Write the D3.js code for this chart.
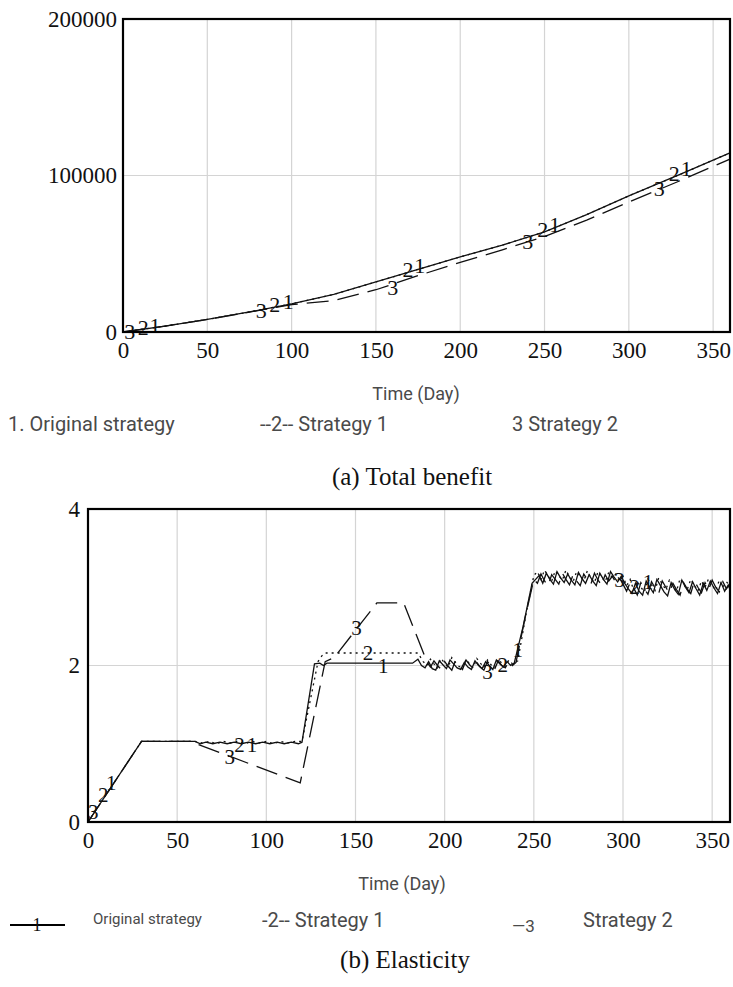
<!DOCTYPE html>
<html>
<head>
<meta charset="utf-8">
<title>Total benefit and elasticity</title>
<script src="https://cdnjs.cloudflare.com/ajax/libs/d3/7.8.5/d3.min.js"></script>
<style>
  body { margin: 0; background: #fff; }
  svg { display: block; }
  .tick text { font-family: "Liberation Serif", serif; fill: #111; }
  .lbl { font-family: "Liberation Serif", serif; fill: #111; }
  .leg { font-family: Roboto, "Liberation Sans", sans-serif; fill: #4a4a4a; }
  .cap { font-family: "Liberation Serif", serif; fill: #111; }
</style>
</head>
<body>
<script>
// ---- data ----
var dayTicks = [0, 50, 100, 150, 200, 250, 300, 350];
var benefitTicks = [0, 100000, 200000];
var elasticTicks = [0, 2, 4];

// (a) total benefit, [day, value]
var benefit1 = [[0,0],[25,3800],[50,8000],[75,12800],[100,18000],[125,24000],[150,32000],[175,40000],[200,48000],[225,55500],[250,64000],[275,75000],[300,87000],[330,100500],[360,114500]];
var benefit2 = [[0,0],[25,3800],[50,8000],[75,12800],[100,18000],[125,24000],[150,32000],[175,40000],[200,48000],[225,55500],[250,64000],[275,75000],[300,87000],[330,100500],[360,114500]];
var benefit3 = [[0,0],[25,3800],[50,8000],[75,12700],[100,17500],[125,20000],[150,27000],[175,36000],[200,44500],[225,52500],[250,61000],[275,71500],[300,83000],[330,96500],[360,110500]];

// (b) elasticity, [day, value]
var elastic1 = [[0,0],[30,1.03],[60,1.03],[63,1.0],[66,1.02],[70,1.0],[74,1.02],[78,1.0],[82,1.02],[86,1.0],[90,1.02],[94,1.0],[98,1.02],[102,1.0],[106,1.02],[110,1.0],[114,1.02],[118,1.0],[120,1.02],
  [127,2.02],[130,2.03],[132,2.0],[134,2.03],[182,2.03],[185,2.08],[187,2.0],[189,1.97],[191,2.05],[193,1.96],[195,1.94],[197,2.06],[199,2.01],[201,1.96],[203,2.07],[205,2.02],[207,1.97],[209,1.95],[211,2.04],[213,1.98],[215,1.95],[217,2.06],[219,2.0],[221,1.96],[223,2.05],[225,2.0],[227,1.95],[229,2.07],[231,2.02],[233,1.98],[235,2.05],[237,2.0],[239,2.03],
  [244,2.5],[249,3.05],[251,3.1],[253,3.15],[255,3.05],[257,3.18],[259,3.1],[261,3.04],[263,3.2],[265,3.12],[267,3.06],[269,3.17],[271,3.09],[273,3.03],[275,3.19],[277,3.11],[279,3.05],[281,3.16],[283,3.08],[285,3.02],[287,3.18],[289,3.1],[291,3.04],[293,3.2],[295,3.13],[297,3.07],[299,3.14],[301,3.05],
  [303,2.98],[305,2.92],[307,3.05],[309,2.95],[311,2.9],[313,3.08],[315,3.0],[317,2.93],[319,3.1],[321,3.02],[323,2.94],[325,2.89],[327,3.06],[329,2.97],[331,2.91],[333,3.09],[335,3.0],[337,2.93],[339,3.07],[341,2.98],[343,2.9],[345,3.05],[347,2.96],[349,3.08],[351,2.99],[353,2.92],[355,3.06],[357,2.95],[359,3.03],[360,2.97]];
var elastic2 = [[0,0],[30,1.03],[60,1.03],[64,1.01],[68,1.03],[72,1.0],[76,1.03],[80,1.01],[84,1.03],[88,1.0],[92,1.03],[96,1.01],[100,1.03],[104,1.0],[108,1.03],[112,1.01],[116,1.03],[120,1.03],
  [129,2.05],[131,2.12],[133,2.16],[185,2.16],[188,2.05],[190,2.0],[192,2.08],[194,2.02],[196,1.97],[198,2.09],[200,2.03],[202,1.98],[204,2.1],[206,2.04],[208,1.99],[210,1.96],[212,2.08],[214,2.02],[216,1.97],[218,2.09],[220,2.03],[222,1.98],[224,2.07],[226,2.01],[228,1.97],[230,2.08],[232,2.03],[234,1.99],[236,2.07],[238,2.02],[241,2.06],
  [246,2.7],[250,3.15],[252,3.2],[254,3.1],[256,3.22],[258,3.14],[260,3.08],[262,3.21],[264,3.15],[266,3.09],[268,3.22],[270,3.13],[272,3.07],[274,3.2],[276,3.14],[278,3.08],[280,3.21],[282,3.12],[284,3.06],[286,3.2],[288,3.13],[290,3.07],[292,3.19],[294,3.12],[296,3.17],[298,3.1],[300,3.14],
  [302,3.02],[304,3.1],[306,2.96],[308,3.08],[310,3.0],[312,2.94],[314,3.1],[316,3.03],[318,2.96],[320,3.12],[322,3.04],[324,2.97],[326,3.09],[328,3.01],[330,2.95],[332,3.11],[334,3.04],[336,2.97],[338,3.1],[340,3.02],[342,2.95],[344,3.08],[346,3.0],[348,3.11],[350,3.03],[352,2.96],[354,3.09],[356,3.0],[358,3.07],[360,3.02]];
var elastic3 = [[0,0],[30,1.03],[60,1.03],[62,0.99],[119,0.5],[133,2.05],[138,2.1],[162,2.8],[177,2.8],[190,2.05],[192,1.98],[194,2.06],[196,2.0],[198,1.95],[200,2.05],[202,1.99],[204,1.94],[206,2.06],[208,2.0],[210,1.95],[212,2.07],[214,2.01],[216,1.96],[218,2.04],[220,1.98],[222,1.94],[224,2.05],[226,1.99],[228,1.95],[230,2.06],[232,2.0],[234,1.97],[236,2.05],[238,2.0],[240,2.04],
  [245,2.6],[250,3.1],[252,3.05],[254,3.17],[256,3.08],[258,3.02],[260,3.16],[262,3.1],[264,3.04],[266,3.18],[268,3.1],[270,3.03],[272,3.16],[274,3.08],[276,3.02],[278,3.17],[280,3.1],[282,3.04],[284,3.18],[286,3.09],[288,3.03],[290,3.16],[292,3.08],[294,3.14],[296,3.06],[298,3.12],[300,3.04],
  [302,2.95],[304,3.06],[306,2.99],[308,2.9],[310,3.06],[312,2.98],[314,2.91],[316,3.07],[318,2.99],[320,2.92],[322,3.08],[324,3.0],[326,2.93],[328,3.05],[330,2.97],[332,2.9],[334,3.06],[336,2.98],[338,2.92],[340,3.08],[342,3.0],[344,2.93],[346,3.06],[348,2.97],[350,3.09],[352,3.0],[354,2.94],[356,3.07],[358,2.98],[360,3.04]];

// series number labels, [day, value]
var benefitLabels1 = [[19,4200],[98,19500],[176,42500],[256,68500],[334,104500]];
var benefitLabels2 = [[12,2800],[90,17800],[169,40000],[249,65500],[327,101500]];
var benefitLabels3 = [[4,300],[82,13500],[160,28500],[240,58000],[318,92000]];
var elasticLabels1 = [[13,0.5],[92,0.99],[165.5,2.0],[241,2.2],[314,3.07]];
var elasticLabels2 = [[8.5,0.35],[85,0.99],[157,2.16],[232.5,2.01],[306.5,3.0]];
var elasticLabels3 = [[3,0.13],[79.5,0.83],[150.5,2.48],[224,1.92],[298,3.09]];

// ---- drawing ----
var W = 733, H = 987;
var svg = d3.select("body").append("svg").attr("width", W).attr("height", H);

var styles = [
  { dash: null },
  { dash: "2,4" },
  { dash: "22,9" }
];

function drawPanel(p) {
  var x = d3.scaleLinear().domain([0, 360]).range([p.left, p.right]);
  var y = d3.scaleLinear().domain(p.yDomain).range([p.bottom, p.top]);
  var g = svg.append("g");

  // grid
  g.selectAll(".vgrid").data(dayTicks.filter(function(d) { return d > 0; }))
    .enter().append("line")
    .attr("x1", function(d) { return x(d); }).attr("x2", function(d) { return x(d); })
    .attr("y1", p.top).attr("y2", p.bottom)
    .attr("stroke", "#d4d4d4").attr("stroke-width", 1.2);
  g.selectAll(".hgrid").data(p.yTicks.slice(1, -1))
    .enter().append("line")
    .attr("x1", p.left).attr("x2", p.right)
    .attr("y1", function(d) { return y(d); }).attr("y2", function(d) { return y(d); })
    .attr("stroke", "#d4d4d4").attr("stroke-width", 1.2);

  // axes (labels only)
  var xa = g.append("g").attr("transform", "translate(0," + p.bottom + ")")
    .call(d3.axisBottom(x).tickValues(dayTicks).tickSize(0).tickPadding(10));
  var ya = g.append("g").attr("transform", "translate(" + p.left + ",0)")
    .call(d3.axisLeft(y).tickValues(p.yTicks).tickSize(0).tickPadding(p.yPad).tickFormat(d3.format("d")));
  [xa, ya].forEach(function(a) {
    a.select(".domain").remove();
    a.selectAll("text").style("font-size", p.tickSize + "px");
  });

  // lines
  var line = d3.line()
    .x(function(d) { return x(d[0]); })
    .y(function(d) { return y(d[1]); });
  p.series.forEach(function(s, i) {
    g.append("path").datum(s)
      .attr("d", line)
      .attr("fill", "none")
      .attr("stroke", "#111")
      .attr("stroke-width", 1.3)
      .attr("stroke-dasharray", styles[i].dash);
  });

  // number labels on lines
  p.labels.forEach(function(set, i) {
    g.selectAll(".l" + i).data(set).enter().append("text")
      .attr("class", "lbl")
      .attr("x", function(d) { return x(d[0]); })
      .attr("y", function(d) { return y(d[1]); })
      .attr("text-anchor", "middle")
      .attr("dominant-baseline", "central")
      .style("font-size", p.labelSize + "px")
      .text(i + 1);
  });

  // frame
  g.append("rect")
    .attr("x", p.left).attr("y", p.top)
    .attr("width", p.right - p.left).attr("height", p.bottom - p.top)
    .attr("fill", "none").attr("stroke", "#000").attr("stroke-width", 2.2);

  // x title
  svg.append("text").attr("class", "leg")
    .attr("x", p.titleX).attr("y", p.bottom + 68)
    .attr("text-anchor", "middle")
    .style("font-size", "18px")
    .text("Time (Day)");
}

drawPanel({
  left: 123, right: 730, top: 19, bottom: 332,
  yDomain: [0, 200000], yTicks: benefitTicks, yPad: 6,
  tickSize: 23, labelSize: 22, titleX: 416,
  series: [benefit1, benefit2, benefit3],
  labels: [benefitLabels1, benefitLabels2, benefitLabels3]
});

drawPanel({
  left: 88, right: 730, top: 509, bottom: 822,
  yDomain: [0, 4], yTicks: elasticTicks, yPad: 8,
  tickSize: 23, labelSize: 21, titleX: 402,
  series: [elastic1, elastic2, elastic3],
  labels: [elasticLabels1, elasticLabels2, elasticLabels3]
});

// legend (a)
svg.append("text").attr("class", "leg").attr("x", 8).attr("y", 431).style("font-size", "20px").text("1. Original strategy");
svg.append("text").attr("class", "leg").attr("x", 260).attr("y", 431).style("font-size", "20px").text("--2-- Strategy 1");
svg.append("text").attr("class", "leg").attr("x", 512).attr("y", 431).style("font-size", "20px").text("3 Strategy 2");

// legend (b)
svg.append("line").attr("x1", 10).attr("x2", 65).attr("y1", 925).attr("y2", 925).attr("stroke", "#000").attr("stroke-width", 2);
svg.append("text").attr("class", "lbl").attr("x", 37).attr("y", 925).attr("text-anchor", "middle").attr("dominant-baseline", "central").style("font-size", "18px").text("1");
svg.append("text").attr("class", "leg").attr("x", 93).attr("y", 924).style("font-size", "15px").text("Original strategy");
svg.append("text").attr("class", "leg").attr("x", 262).attr("y", 927).style("font-size", "20px").text("-2-- Strategy 1");
svg.append("text").attr("class", "leg").attr("x", 512).attr("y", 932).style("font-size", "17px").text("\u20143");
svg.append("text").attr("class", "leg").attr("x", 583).attr("y", 927).style("font-size", "20px").text("Strategy 2");

// captions
svg.append("text").attr("class", "cap").attr("x", 412).attr("y", 485).attr("text-anchor", "middle").style("font-size", "25px").text("(a) Total benefit");
svg.append("text").attr("class", "cap").attr("x", 405).attr("y", 968).attr("text-anchor", "middle").style("font-size", "25px").text("(b) Elasticity");
</script>
</body>
</html>
